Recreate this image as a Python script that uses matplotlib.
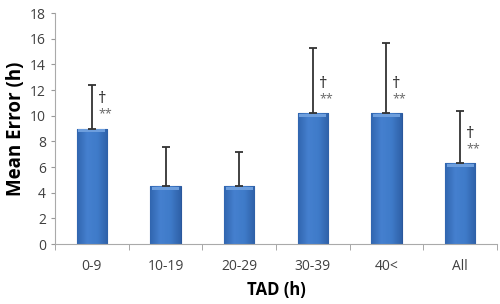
import numpy as np
import matplotlib
matplotlib.use("Agg")
import matplotlib.pyplot as plt
from matplotlib.colors import LinearSegmentedColormap

plt.rcParams['font.family'] = ['Open Sans', 'DejaVu Sans']

categories = ["0-9", "10-19", "20-29", "30-39", "40<", "All"]
mean_err = [9.0, 4.5, 4.5, 10.2, 10.2, 6.3]
sd_err = [3.4, 3.1, 2.7, 5.1, 5.5, 4.1]
has_mark = [True, False, False, True, True, True]

fig = plt.figure(figsize=(5, 3.04), dpi=100)
ax = fig.add_axes([0.11, 0.197, 0.884, 0.76])

x = np.arange(len(categories))
w = 0.41
bars = ax.bar(x, mean_err, width=w, color="#3c76c6", edgecolor="#2a579c",
              linewidth=0.8, zorder=2)

# horizontal shading inside each bar
cmap = LinearSegmentedColormap.from_list("barshade", ["#3166b0", "#4580cf", "#3f7bc9", "#2f61a8"])
grad = np.linspace(0, 1, 64).reshape(1, -1)
for b in bars:
    bx, by = b.get_x(), b.get_y()
    im = ax.imshow(grad, cmap=cmap, aspect="auto", zorder=2.1,
                   extent=[bx, bx + b.get_width(), by, by + b.get_height()])
    im.set_clip_path(b)
    # light strip on the top
    ax.fill_between([bx + 0.02, bx + b.get_width() - 0.02], b.get_height() - 0.3,
                    b.get_height() - 0.03, color="#6d9edd", zorder=2.2, linewidth=0)

ax.errorbar(x, mean_err, yerr=[np.zeros(len(sd_err)), sd_err], fmt="none",
            ecolor="#333333", elinewidth=1.3, capsize=3, capthick=1.3, zorder=3)

for xi, m, mk in zip(x, mean_err, has_mark):
    if mk:
        ax.text(xi + 0.135, m + 2.3, "\u2020", ha="center", va="center", fontsize=12,
                color="#222222")
        ax.text(xi + 0.18, m + 1.15, "**", ha="center", va="center", fontsize=9,
                color="#666666")

ax.set_xlim(-0.5, len(categories) - 0.5)
ax.set_ylim(0, 18)
ax.set_yticks(np.arange(0, 19, 2))
ax.set_xticks(x)
ax.set_xticklabels(categories, fontsize=10, color="#404040")
ax.tick_params(axis="y", labelsize=10, labelcolor="#404040", length=3, color="#999999")
ax.tick_params(axis="x", length=0, pad=11)
ax.set_xticks(np.arange(-0.5, len(categories)), minor=True)
ax.tick_params(axis="x", which="minor", length=4, color="#999999")

for sp in ["top", "right"]:
    ax.spines[sp].set_visible(False)
for sp in ["left", "bottom"]:
    ax.spines[sp].set_color("#aaaaaa")

ax.set_ylabel("Mean Error (h)", fontsize=13.5, fontweight="bold", labelpad=3)
ax.set_xlabel("TAD (h)", fontsize=12, fontweight="bold", labelpad=5)

fig.savefig("out.png", dpi=100)
